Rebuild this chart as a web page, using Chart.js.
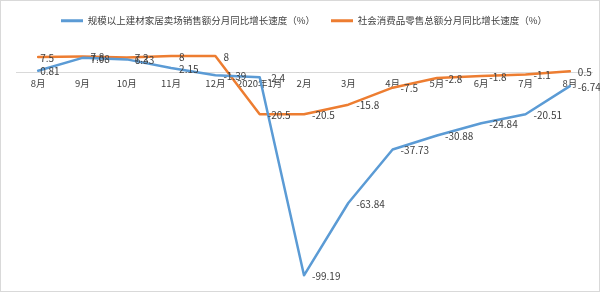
<!DOCTYPE html>
<html>
<head>
<meta charset="utf-8">
<script src="https://cdn.jsdelivr.net/npm/chart.js@4"></script>
<style>
  html, body { margin: 0; padding: 0; background: #fff; }
  #wrap { width: 600px; height: 292px; position: relative; }
</style>
</head>
<body>
<div id="wrap"><canvas id="salesChart" width="600" height="292"></canvas></div>
<script>
// Monthly year-on-year growth (%), Aug 2019 - Aug 2020
const months = ['8月', '9月', '10月', '11月', '12月', '2020年1月', '2月', '3月', '4月', '5月', '6月', '7月', '8月'];
const homeStoreGrowth = [0.81, 7.08, 6.33, 2.15, -1.39, -2.4, -99.19, -63.84, -37.73, -30.88, -24.84, -20.51, -6.74];
const retailGrowth = [7.5, 7.8, 7.2, 8, 8, -20.5, -20.5, -15.8, -7.5, -2.8, -1.8, -1.1, 0.5];

const seriesNames = ['规模以上建材家居卖场销售额分月同比增长速度（%）', '社会消费品零售总额分月同比增长速度（%）'];
const seriesColors = ['#5B9BD5', '#ED7D31'];

const FONT = '"Noto Sans CJK SC", "Noto Sans", sans-serif';
const TEXT_COLOR = '#404040';

// draws the value next to each point (right side, like Excel)
const pointLabels = {
    id: 'pointLabels',
    afterDatasetsDraw(chart) {
        const ctx = chart.ctx;
        ctx.save();
        ctx.font = '10px ' + FONT;
        ctx.fillStyle = TEXT_COLOR;
        ctx.textAlign = 'left';
        ctx.textBaseline = 'middle';
        chart.data.datasets.forEach((ds, i) => {
            chart.getDatasetMeta(i).data.forEach((pt, j) => {
                // first column labels sit closer to the point
                const dx = j === 0 ? 2 : 8;
                ctx.fillText(String(ds.data[j]), pt.x + dx, pt.y + 1);
            });
        });
        ctx.restore();
    }
};

const frame = {
    id: 'frame',
    beforeDraw(chart) {
        const ctx = chart.ctx;
        ctx.save();
        ctx.fillStyle = '#fff';
        ctx.fillRect(0, 0, chart.width, chart.height);
        ctx.strokeStyle = '#d9d9d9';
        ctx.lineWidth = 1;
        ctx.strokeRect(0.5, 0.5, chart.width - 1, chart.height - 1);
        ctx.restore();
    }
};

const ctx = document.getElementById('salesChart').getContext('2d');
new Chart(ctx, {
    type: 'line',
    data: {
        labels: months,
        datasets: [homeStoreGrowth, retailGrowth].map((values, i) => ({
            label: seriesNames[i],
            data: values,
            borderColor: seriesColors[i],
            backgroundColor: seriesColors[i],
            borderWidth: 2.5,
            pointRadius: 0,
            tension: 0,
            borderJoinStyle: 'round',
            borderCapStyle: 'round'
        }))
    },
    options: {
        responsive: false,
        animation: false,
        layout: { padding: { left: 16, right: 8, top: 0, bottom: 15 } },
        plugins: {
            legend: {
                position: 'top',
                labels: {
                    font: { family: FONT, size: 9.5 },
                    color: TEXT_COLOR,
                    boxWidth: 22,
                    boxHeight: 3,
                    padding: 16,
                    generateLabels(chart) {
                        return Chart.defaults.plugins.legend.labels.generateLabels(chart).map(item => {
                            item.lineWidth = 0;
                            item.fillStyle = item.strokeStyle;
                            return item;
                        });
                    }
                }
            },
            tooltip: { enabled: false }
        },
        scales: {
            x: {
                position: { y: 0 },
                offset: true,
                grid: { display: false, drawTicks: false },
                border: { display: true, color: '#d9d9d9', width: 1 },
                ticks: {
                    font: { family: FONT, size: 9.5 },
                    color: TEXT_COLOR,
                    padding: 5,
                    maxRotation: 0,
                    autoSkip: false
                }
            },
            y: {
                display: false,
                min: -100,
                max: 18
            }
        }
    },
    plugins: [frame, pointLabels]
});
</script>
</body>
</html>
